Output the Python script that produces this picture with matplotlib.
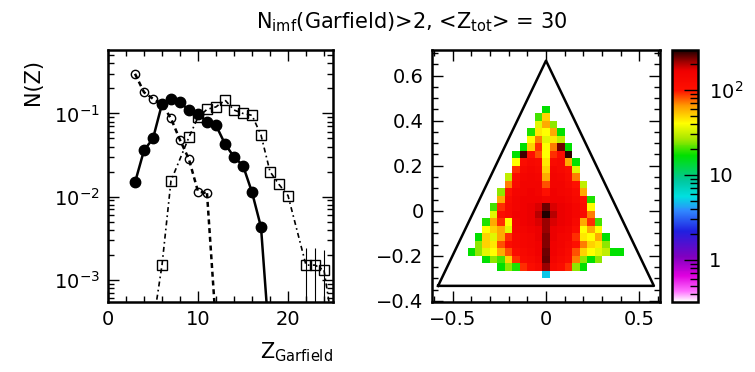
import numpy as np
import matplotlib
matplotlib.use("Agg")
import matplotlib.pyplot as plt
from matplotlib.colors import LinearSegmentedColormap, LogNorm
from matplotlib.ticker import MultipleLocator, LogLocator, FixedLocator, NullFormatter

plt.rcParams['font.family'] = ['DejaVu Sans']
plt.rcParams['mathtext.default'] = 'regular'

# ---- left panel: charge distributions ----
z_full = [3, 4, 5, 6, 7, 8, 9, 10, 11, 12, 13, 14, 15, 16, 17]
n_full = [0.0148, 0.036, 0.05, 0.13, 0.15, 0.137, 0.109, 0.099, 0.079, 0.072,
          0.043, 0.030, 0.0236, 0.0113, 0.0043]
z_full_tail = [17, 17.7]
n_full_tail = [0.0043, 0.0004]

z_circ = [3, 4, 5, 6, 7, 8, 9, 10, 11]
n_circ = [0.30, 0.18, 0.15, 0.13, 0.087, 0.048, 0.028, 0.0115, 0.011]
z_circ_tail = [11, 11.9]
n_circ_tail = [0.011, 0.0004]

z_sq = [6, 7, 9, 10, 11, 12, 13, 14, 15, 16, 17, 18, 19, 20, 22, 23, 24]
n_sq = [0.0015, 0.0155, 0.052, 0.09, 0.112, 0.12, 0.145, 0.11, 0.1, 0.095,
        0.055, 0.02, 0.014, 0.0103, 0.0015, 0.0015, 0.0013]
sq_err_lo = [0, 0, 0, 0, 0, 0, 0, 0, 0, 0, 0, 0, 0, 0, 0.00135, 0.00135, 0.0012]
sq_err_hi = [0, 0, 0, 0, 0, 0, 0, 0, 0, 0, 0, 0, 0, 0, 0.0009, 0.0009, 0.001]
z_sq_head = [5.2, 6]
n_sq_head = [0.0004, 0.0015]
z_sq_tail = [24, 24.6]
n_sq_tail = [0.0013, 0.0005]

# ---- right panel: 2D histogram (rows from top to bottom) ----
x_edges = np.linspace(-0.42, 0.42, 22)
y_edges = np.linspace(0.4667, -0.3, 24)
counts = [
    [0, 0, 0, 0, 0, 0, 0, 0, 0, 0, 17, 0, 0, 0, 0, 0, 0, 0, 0, 0, 0],
    [0, 0, 0, 0, 0, 0, 0, 0, 0, 20, 50, 0, 0, 0, 0, 0, 0, 0, 0, 0, 0],
    [0, 0, 0, 0, 0, 0, 0, 0, 0, 35, 60, 25, 0, 0, 0, 0, 0, 0, 0, 0, 0],
    [0, 0, 0, 0, 0, 0, 0, 0, 18, 45, 40, 60, 17, 0, 0, 0, 0, 0, 0, 0, 0],
    [0, 0, 0, 0, 0, 0, 0, 0, 40, 70, 35, 45, 30, 0, 0, 0, 0, 0, 0, 0, 0],
    [0, 0, 0, 0, 0, 0, 0, 17, 50, 90, 40, 70, 240, 17, 0, 0, 0, 0, 0, 0, 0],
    [0, 0, 0, 0, 0, 0, 17, 270, 100, 80, 40, 90, 110, 280, 0, 0, 0, 0, 0, 0, 0],
    [0, 0, 0, 0, 0, 0, 40, 110, 130, 120, 45, 120, 130, 60, 17, 0, 0, 0, 0, 0, 0],
    [0, 0, 0, 0, 0, 0, 90, 130, 140, 130, 50, 140, 130, 110, 35, 0, 0, 0, 0, 0, 0],
    [0, 0, 0, 0, 0, 30, 110, 140, 150, 140, 60, 150, 140, 120, 70, 0, 0, 0, 0, 0, 0],
    [0, 0, 0, 0, 0, 70, 120, 150, 150, 150, 80, 150, 150, 130, 100, 30, 0, 0, 0, 0, 0],
    [0, 0, 0, 0, 25, 100, 140, 150, 160, 150, 100, 160, 150, 140, 120, 60, 0, 0, 0, 0, 0],
    [0, 0, 0, 0, 60, 120, 150, 160, 160, 160, 150, 160, 160, 150, 130, 100, 18, 0, 0, 0, 0],
    [0, 0, 0, 20, 90, 130, 150, 160, 170, 180, 240, 180, 170, 160, 140, 110, 40, 0, 0, 0, 0],
    [0, 0, 0, 35, 110, 130, 160, 160, 170, 200, 290, 200, 170, 160, 140, 120, 70, 0, 0, 0, 0],
    [0, 0, 18, 60, 90, 40, 150, 160, 170, 180, 220, 180, 170, 160, 130, 60, 90, 20, 0, 0, 0],
    [0, 0, 40, 50, 60, 35, 140, 150, 160, 170, 220, 170, 160, 150, 110, 40, 60, 40, 0, 0, 0],
    [0, 17, 50, 35, 60, 90, 130, 140, 150, 170, 230, 170, 150, 140, 90, 45, 40, 60, 17, 0, 0],
    [0, 25, 50, 45, 80, 110, 130, 140, 150, 160, 230, 160, 150, 130, 100, 70, 50, 45, 25, 0, 0],
    [17, 25, 35, 40, 60, 80, 110, 130, 140, 160, 240, 160, 140, 120, 80, 50, 40, 35, 30, 17, 17],
    [0, 0, 17, 25, 20, 50, 90, 120, 130, 150, 250, 150, 130, 110, 70, 25, 17, 25, 0, 0, 0],
    [0, 0, 0, 0, 17, 25, 18, 90, 110, 130, 220, 130, 110, 90, 25, 17, 0, 0, 0, 0, 0],
    [0, 0, 0, 0, 0, 0, 0, 0, 0, 0, 5, 0, 0, 0, 0, 0, 0, 0, 0, 0, 0],
]
tri_x = [-1 / np.sqrt(3), 0, 1 / np.sqrt(3), -1 / np.sqrt(3)]
tri_y = [-1 / 3, 2 / 3, -1 / 3, -1 / 3]

# ROOT-like rainbow palette
stops = [(0.00, '#ffffff'), (0.04, '#ff70ff'), (0.10, '#e000e0'), (0.18, '#8000c0'),
         (0.28, '#2020e0'), (0.36, '#3088ff'), (0.42, '#00e0e0'), (0.48, '#00c8a0'),
         (0.58, '#00e000'), (0.65, '#a8e800'), (0.71, '#ffff00'), (0.78, '#ff9900'),
         (0.84, '#ff1000'), (0.92, '#f00000'), (0.955, '#a00000'), (1.00, '#200000')]
cmap = LinearSegmentedColormap.from_list('rootpal', stops)

fig = plt.figure(figsize=(7.55, 3.72), dpi=100)
W, H = 755, 372


def box(x0, y0, x1, y1):
    return [x0 / W, 1 - y1 / H, (x1 - x0) / W, (y1 - y0) / H]


def root_style(ax):
    ax.tick_params(which='both', direction='in', top=True, right=True,
                   labelsize=14, width=1.0, pad=6)
    ax.tick_params(which='major', length=8)
    ax.tick_params(which='minor', length=4)
    for s in ax.spines.values():
        s.set_linewidth(1.8)


# left
ax1 = fig.add_axes(box(108, 50, 333, 302))
ax1.set_yscale('log')
ax1.plot(z_full, n_full, '-', color='k', lw=1.8, marker='o', ms=7.5, mfc='k', mec='k')
ax1.plot(z_full_tail, n_full_tail, '-', color='k', lw=1.8)
ax1.plot(z_circ, n_circ, linestyle=(0, (2, 1.5)), color='k', lw=1.8,
         marker='o', ms=6, mfc='none', mec='k', mew=1.0)
ax1.plot(z_circ_tail, n_circ_tail, linestyle=(0, (2, 1.5)), color='k', lw=1.8)
ax1.errorbar(z_sq, n_sq, yerr=[sq_err_lo, sq_err_hi], linestyle=(0, (3, 2, 1, 2)),
             color='k', lw=1.2, marker='s', ms=6.5, mfc='none', mec='k', mew=1.0,
             elinewidth=0.8, capsize=0)
ax1.plot(z_sq_head, n_sq_head, linestyle=(0, (3, 2, 1, 2)), color='k', lw=1.2)
ax1.plot(z_sq_tail, n_sq_tail, linestyle=(0, (3, 2, 1, 2)), color='k', lw=1.2)
ax1.set_xlim(0, 25)
ax1.set_ylim(5.4e-4, 0.58)
ax1.xaxis.set_major_locator(MultipleLocator(10))
ax1.xaxis.set_minor_locator(MultipleLocator(2))
ax1.yaxis.set_major_locator(LogLocator(base=10, numticks=10))
ax1.yaxis.set_minor_locator(LogLocator(base=10, subs=np.arange(2, 10), numticks=20))
ax1.yaxis.set_minor_formatter(NullFormatter())
root_style(ax1)

# right
ax2 = fig.add_axes(box(432, 50, 660, 302))
norm = LogNorm(vmin=0.32, vmax=295)
data = np.ma.masked_equal(np.array(counts, dtype=float), 0)
mesh = ax2.pcolormesh(x_edges, y_edges, data, cmap=cmap, norm=norm, shading='flat')
ax2.plot(tri_x, tri_y, color='k', lw=1.8)
ax2.set_xlim(-0.61, 0.61)
ax2.set_ylim(-0.405, 0.714)
ax2.xaxis.set_major_locator(MultipleLocator(0.5))
ax2.xaxis.set_minor_locator(MultipleLocator(0.1))
ax2.yaxis.set_major_locator(FixedLocator([-0.4, -0.2, 0, 0.2, 0.4, 0.6]))
ax2.yaxis.set_minor_locator(MultipleLocator(0.05))
ax2.set_yticklabels(['\u22120.4', '\u22120.2', '0', '0.2', '0.4', '0.6'])
ax2.set_xticks([-0.5, 0, 0.5])
ax2.set_xticklabels(['\u22120.5', '0', '0.5'])
root_style(ax2)

# colorbar
cax = fig.add_axes(box(672, 50, 698, 302))
cb = fig.colorbar(mesh, cax=cax)
cb.outline.set_linewidth(1.8)
cax.yaxis.set_major_locator(FixedLocator([1, 10, 100]))
cax.yaxis.set_minor_locator(LogLocator(base=10, subs=np.arange(2, 10), numticks=20))
cax.yaxis.set_minor_formatter(NullFormatter())
cax.set_yticklabels(['1', '10', '$10^{2}$'])
cax.tick_params(which='both', direction='in', right=True, left=False, labelsize=14,
                pad=8, width=1.0)
cax.tick_params(which='major', length=10)
cax.tick_params(which='minor', length=6)

# texts
fig.text(412 / W, 1 - 22 / H, 'N$_{imf}$(Garfield)>2, <Z$_{tot}$> = 30',
         ha='center', va='center', fontsize=15)
fig.text(33 / W, 1 - 82 / H, 'N(Z)', rotation=90, ha='center', va='center', fontsize=15)
fig.text(333 / W, 1 - 352 / H, 'Z$_{Garfield}$', ha='right', va='center', fontsize=15)

fig.savefig('out.png', dpi=100)
